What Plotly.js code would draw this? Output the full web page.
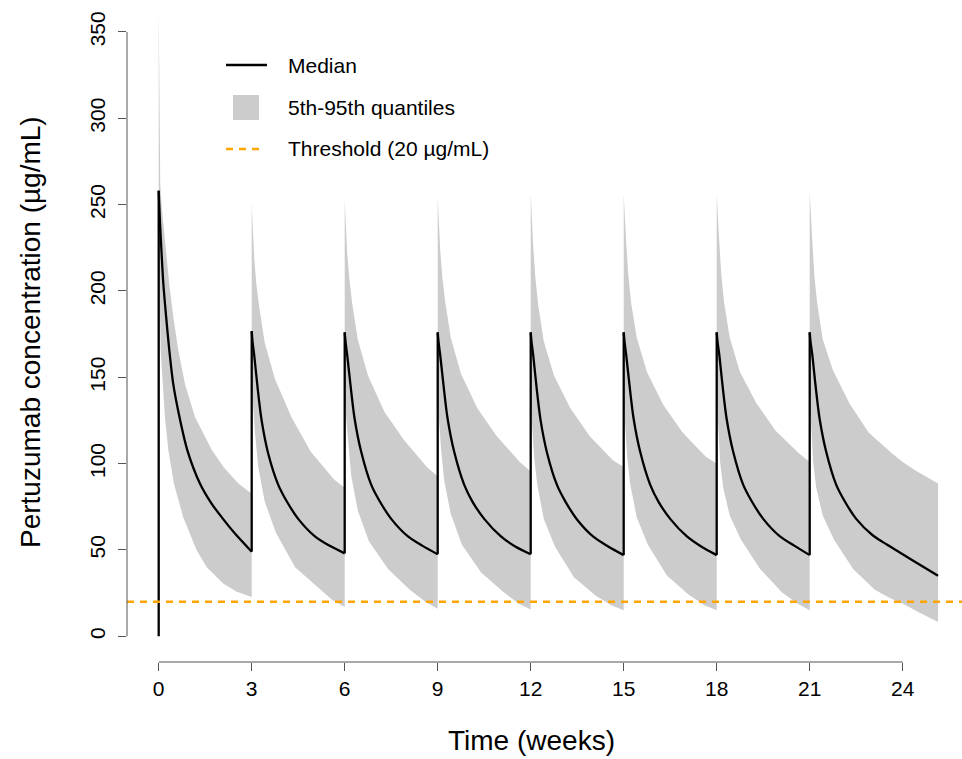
<!DOCTYPE html>
<html>
<head>
<meta charset="utf-8">
<script src="https://cdn.plot.ly/plotly-3.0.1.min.js"></script>
<style>html,body{margin:0;padding:0;background:#fff;}#chart{width:962px;height:759px;}</style>
</head>
<body>
<div id="chart"></div>
<script>
// ---------------- data ----------------
const xTickWeeks = [0, 3, 6, 9, 12, 15, 18, 21, 24];
const yTickConc = [0, 50, 100, 150, 200, 250, 300, 350];
const thresholdConc = 20;
const predoseConc = 0;   // median at week 0 before the first dose

// median concentration, one list per dosing cycle (absolute weeks)
const medianWeeks = [
  [0, 0.04, 0.086, 0.15, 0.24, 0.34, 0.47, 0.67, 0.92, 1.33, 1.7, 2.03, 2.46, 3.0],
  [3.0, 3.03, 3.08, 3.19, 3.32, 3.53, 3.85, 4.12, 4.5, 5.03, 5.5, 6.0],
  [6.0, 6.03, 6.08, 6.19, 6.32, 6.53, 6.85, 7.12, 7.5, 8.03, 8.5, 9.0],
  [9.0, 9.03, 9.08, 9.19, 9.32, 9.53, 9.85, 10.12, 10.5, 11.03, 11.5, 12.0],
  [12.0, 12.03, 12.08, 12.19, 12.32, 12.53, 12.85, 13.12, 13.5, 14.03, 14.5, 15.0],
  [15.0, 15.03, 15.08, 15.19, 15.32, 15.53, 15.85, 16.12, 16.5, 17.03, 17.5, 18.0],
  [18.0, 18.03, 18.08, 18.19, 18.32, 18.53, 18.85, 19.12, 19.5, 20.03, 20.5, 21.0],
  [21.0, 21.03, 21.08, 21.19, 21.32, 21.53, 21.85, 22.12, 22.5, 23.03, 23.5, 24.0, 24.5, 25.14]
];
const medianConc = [
  [258, 240, 224, 204, 185, 166, 146, 127, 108, 88.5, 77, 69, 59.5, 49],
  [176.7, 170, 163, 144, 125, 106, 88, 78.5, 68, 58, 52.5, 48],
  [176, 170, 163, 145, 126, 107, 88, 78.5, 68, 58, 52.5, 47.5],
  [176, 170, 163, 145, 126, 107, 88, 78, 68, 58, 52, 47.5],
  [176, 170, 163, 144, 125, 106, 87.5, 78, 67.5, 57.5, 52, 47],
  [176, 170, 163, 145, 126, 107, 88, 78, 68, 58, 52, 47],
  [176, 170, 163.5, 145, 126, 107, 88, 78.5, 68, 58, 52.5, 47],
  [176, 170, 163.5, 145, 126, 107, 88, 78.5, 68, 58.5, 53, 47.5, 42, 35]
];

// 95th quantile
const upperWeeks = [
  [0, 0.01, 0.025, 0.05, 0.1, 0.17, 0.24, 0.34, 0.47, 0.63, 0.85, 1.17, 1.71, 2.09, 2.57, 3.0],
  [3.0, 3.03, 3.08, 3.15, 3.24, 3.42, 3.75, 4.28, 4.9, 5.65, 6.0],
  [6.0, 6.03, 6.08, 6.15, 6.24, 6.42, 6.75, 7.28, 7.9, 8.65, 9.0],
  [9.0, 9.03, 9.08, 9.15, 9.24, 9.42, 9.75, 10.28, 10.9, 11.65, 12.0],
  [12.0, 12.03, 12.08, 12.15, 12.24, 12.42, 12.75, 13.28, 13.9, 14.65, 15.0],
  [15.0, 15.03, 15.08, 15.15, 15.24, 15.42, 15.75, 16.28, 16.9, 17.65, 18.0],
  [18.0, 18.03, 18.08, 18.15, 18.24, 18.42, 18.75, 19.28, 19.9, 20.65, 21.0],
  [21.0, 21.03, 21.08, 21.15, 21.24, 21.42, 21.75, 22.28, 22.9, 23.65, 24.0, 24.41, 25.14]
];
const upperConc = [
  [364, 335, 295, 262, 248, 235, 222, 204, 185, 166, 146, 127, 108, 98, 88.5, 82.5],
  [251, 236, 219, 204, 191, 170, 149, 127, 107, 91, 86],
  [253, 238, 222, 207, 193, 172, 151, 130, 114, 98, 92.5],
  [254, 239, 224, 208, 194, 173, 152, 132, 116, 101, 95.5],
  [256, 240, 226, 208, 192, 171, 151, 132, 116, 102, 98],
  [256, 241, 228, 209, 193, 173, 153, 134, 118, 104, 100],
  [256.5, 242, 229, 209, 193, 173, 153, 135, 119, 106, 101],
  [257.5, 243, 230, 209, 193, 172, 154, 135, 118, 106, 101, 96, 88.5]
];

// 5th quantile
const lowerWeeks = [
  [0, 0.02, 0.064, 0.13, 0.2, 0.31, 0.49, 0.79, 1.22, 1.55, 2.08, 2.5, 3.0],
  [3.0, 3.04, 3.11, 3.21, 3.42, 3.78, 4.4, 5.1, 5.6, 6.0],
  [6.0, 6.04, 6.11, 6.21, 6.42, 6.78, 7.4, 8.1, 8.6, 9.0],
  [9.0, 9.04, 9.11, 9.21, 9.42, 9.78, 10.4, 11.1, 11.6, 12.0],
  [12.0, 12.04, 12.11, 12.21, 12.42, 12.78, 13.4, 14.1, 14.6, 15.0],
  [15.0, 15.04, 15.11, 15.21, 15.42, 15.78, 16.4, 17.1, 17.6, 18.0],
  [18.0, 18.04, 18.11, 18.21, 18.42, 18.78, 19.4, 20.1, 20.6, 21.0],
  [21.0, 21.04, 21.11, 21.21, 21.42, 21.78, 22.4, 23.1, 23.6, 24.0, 24.5, 25.14]
];
const lowerConc = [
  [230, 212, 166, 146, 127, 108, 88.5, 69, 50, 40, 30.5, 26, 22.8],
  [145, 135, 117, 98, 78, 60, 40, 29, 21, 17],
  [140, 128, 112, 93, 73, 55, 39, 27, 20, 16],
  [138, 126, 108, 90, 71, 53, 37, 26, 19, 15.5],
  [136, 124, 104, 88, 68, 52, 34, 23.5, 18, 15],
  [136, 124, 104, 88, 69, 53, 35, 24, 18, 15],
  [138, 125, 101, 86, 70, 56, 39, 25.5, 19, 15],
  [138, 125, 101, 86, 70, 56, 39, 27, 22, 19, 14, 8.3]
];

const legendLabels = ['Median', '5th-95th quantiles', 'Threshold (20 µg/mL)'];
const xTitle = 'Time (weeks)';
const yTitle = 'Pertuzumab concentration (µg/mL)';

// ---------------- build ----------------
const flat = a => [].concat(...a);
const upX = flat(upperWeeks), upY = flat(upperConc);
const loX = flat(lowerWeeks), loY = flat(lowerConc);
const bandX = upX.concat(loX.slice().reverse());
const bandY = upY.concat(loY.slice().reverse());

// vertical dose jumps of the median: predose -> first peak, each trough -> next peak
const jumpX = [], jumpY = [];
medianWeeks.forEach((wk, i) => {
  const fromY = i === 0 ? predoseConc : medianConc[i - 1][medianConc[i - 1].length - 1];
  jumpX.push(wk[0], wk[0], null);
  jumpY.push(fromY, medianConc[i][0], null);
});

const FONT = 'Liberation Sans, Arial, Helvetica, sans-serif';
const M = {l: 127, r: 0, t: 0, b: 97};
const W = 962, H = 759;
const PW = W - M.l - M.r, PH = H - M.t - M.b;
const px = x => (x - M.l) / PW;        // pixel -> paper (x)
const py = y => (H - M.b - y) / PH;    // pixel -> paper (y)

const MED_W = 2.3;
const traces = [
  {x: bandX, y: bandY, type: 'scatter', mode: 'lines', fill: 'toself',
   fillcolor: '#cccccc', line: {width: 0, color: '#cccccc'}, hoverinfo: 'skip', showlegend: false},
  {x: jumpX, y: jumpY, type: 'scatter', mode: 'lines', connectgaps: false,
   line: {color: '#000000', width: MED_W}, showlegend: false}
];
medianWeeks.forEach((wk, i) => {
  traces.push({x: wk, y: medianConc[i], type: 'scatter', mode: 'lines',
    line: {color: '#000000', width: MED_W, shape: 'spline', smoothing: 0.8}, showlegend: false});
});

const axisColor = '#555555';
const ORANGE = '#ffa500';
const shapes = [
  {type: 'line', xref: 'paper', yref: 'y', x0: 0, x1: 1, y0: thresholdConc, y1: thresholdConc,
   line: {color: ORANGE, width: 2.5, dash: '7px,6px'}, layer: 'above'},
  {type: 'line', xref: 'paper', yref: 'y', x0: 0, x1: 0,
   y0: yTickConc[0], y1: yTickConc[yTickConc.length - 1], line: {color: axisColor, width: 1}},
  {type: 'line', xref: 'x', yref: 'paper', y0: 0, y1: 0,
   x0: xTickWeeks[0], x1: xTickWeeks[xTickWeeks.length - 1], line: {color: axisColor, width: 1}},
  {type: 'line', xref: 'paper', yref: 'paper', x0: px(226), x1: px(267), y0: py(65), y1: py(65),
   line: {color: '#000', width: MED_W}, layer: 'above'},
  {type: 'rect', xref: 'paper', yref: 'paper', x0: px(233), x1: px(259), y0: py(120), y1: py(95),
   fillcolor: '#cccccc', line: {width: 0}, layer: 'above'},
  {type: 'line', xref: 'paper', yref: 'paper', x0: px(226), x1: px(261), y0: py(149), y1: py(149),
   line: {color: ORANGE, width: 2.5, dash: '7px,6px'}, layer: 'above'}
];

const legY = [65, 108, 149];
const annotations = legendLabels.map((t, i) => ({
  text: t, xref: 'paper', yref: 'paper', x: px(286), y: py(legY[i]),
  xanchor: 'left', yanchor: 'middle', showarrow: false,
  font: {family: FONT, size: 21, color: '#000'}
}));
annotations.push({
  text: xTitle, xref: 'paper', yref: 'paper', x: px(531), y: py(740),
  xanchor: 'center', yanchor: 'middle', showarrow: false,
  font: {family: FONT, size: 28, color: '#000'}
});
annotations.push({
  text: yTitle, xref: 'paper', yref: 'paper', x: px(30), y: py(332),
  xanchor: 'center', yanchor: 'middle', showarrow: false, textangle: -90,
  font: {family: FONT, size: 28, color: '#000'}
});

const layout = {
  width: W, height: H, autosize: false,
  margin: M,
  paper_bgcolor: '#ffffff', plot_bgcolor: '#ffffff',
  showlegend: false,
  xaxis: {
    range: [-1.0226, 25.913], tickmode: 'array', tickvals: xTickWeeks,
    ticktext: xTickWeeks.map(String),
    ticks: 'outside', ticklen: 8, tickwidth: 1, tickcolor: axisColor,
    showline: false, showgrid: false, zeroline: false,
    tickfont: {family: FONT, size: 21, color: '#000'}
  },
  yaxis: {
    range: [-14.9, 368.5], tickmode: 'array', tickvals: yTickConc,
    ticktext: yTickConc.map(String), tickangle: -90,
    ticks: 'outside', ticklen: 8, tickwidth: 1, tickcolor: axisColor,
    ticklabelstandoff: 5,
    showline: false, showgrid: false, zeroline: false,
    tickfont: {family: FONT, size: 21, color: '#000'}
  },
  shapes: shapes,
  annotations: annotations
};

Plotly.newPlot('chart', traces, layout, {displayModeBar: false, staticPlot: true});
</script>
</body>
</html>
